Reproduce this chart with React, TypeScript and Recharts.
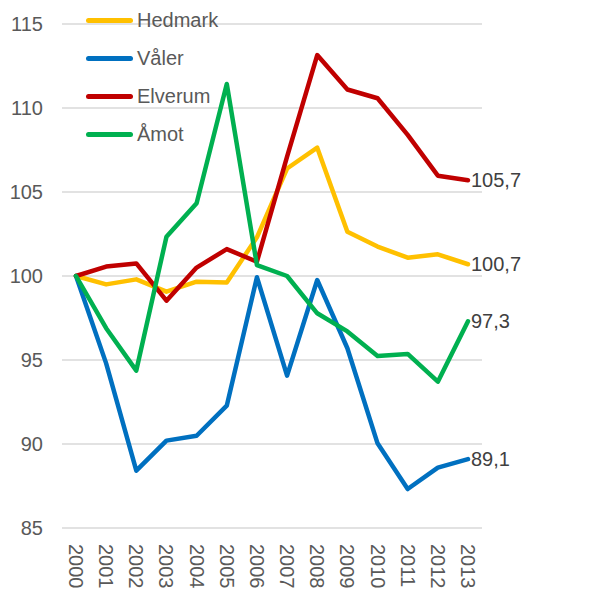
import React from "react";
import { LineChart, Line, XAxis, YAxis, CartesianGrid, LabelList, Legend } from "recharts";

const years = ["2000", "2001", "2002", "2003", "2004", "2005", "2006", "2007", "2008", "2009", "2010", "2011", "2012", "2013"];
const hedmark = [100, 99.5, 99.8, 99.07, 99.66, 99.62, 102.3, 106.4, 107.64, 102.64, 101.75, 101.09, 101.29, 100.7];
const valer = [100, 94.8, 88.41, 90.2, 90.49, 92.28, 99.93, 94.07, 99.76, 95.7, 90.04, 87.32, 88.59, 89.1];
const elverum = [100, 100.56, 100.75, 98.53, 100.5, 101.6, 100.85, 107.1, 113.15, 111.1, 110.58, 108.4, 105.97, 105.7];
const amot = [100, 96.89, 94.37, 102.34, 104.33, 111.43, 100.65, 100.0, 97.78, 96.7, 95.24, 95.36, 93.71, 97.3];
const yTicks = [85, 90, 95, 100, 105, 110, 115];

const seriesDefs = [
  { key: "Hedmark", values: hedmark, color: "#FFC000" },
  { key: "Våler", values: valer, color: "#0070C0" },
  { key: "Elverum", values: elverum, color: "#C00000" },
  { key: "Åmot", values: amot, color: "#00B050" },
];

const data = years.map((y, i) => {
  const row: Record<string, any> = { year: y };
  seriesDefs.forEach((s) => (row[s.key] = s.values[i]));
  return row;
});

const FONT = "'Liberation Sans', Arial, sans-serif";

const XTick = (props: any) => {
  const { x, y, payload } = props;
  return (
    <text
      x={x}
      y={y}
      dy="0.35em"
      transform={`rotate(90, ${x}, ${y})`}
      textAnchor="start"
      fill="#595959"
      fontSize={20}
      fontFamily={FONT}
    >
      {payload.value}
    </text>
  );
};

const fmt = (v: number) => v.toFixed(1).replace(".", ",");

const endLabel = (n: number) => (props: any) => {
  const { x, y, value, index } = props;
  if (index !== n - 1) return null;
  return (
    <text x={x + 3} y={y} dy="0.35em" fill="#404040" fontSize={20} fontFamily={FONT} textAnchor="start">
      {fmt(value)}
    </text>
  );
};

const LegendContent = () => (
  <div style={{ fontFamily: FONT, fontSize: 20, color: "#595959" }}>
    {seriesDefs.map((s) => (
      <div key={s.key} style={{ display: "flex", alignItems: "center", height: 37.8 }}>
        <div style={{ width: 47, height: 5, borderRadius: 3, background: s.color, marginRight: 4 }} />
        <span>{s.key}</span>
      </div>
    ))}
  </div>
);

export default function App() {
  return (
    <div style={{ position: "absolute", left: 0, top: 0, width: 614, height: 594 }}>
      <LineChart width={614} height={594} data={data} margin={{ top: 24, right: 132, bottom: 0, left: 0 }}>
        <CartesianGrid vertical={false} stroke="#D9D9D9" strokeWidth={1.5} />
        <XAxis
          dataKey="year"
          axisLine={false}
          tickLine={false}
          tickSize={0}
          height={66}
          interval={0}
          padding={{ left: 14, right: 14 }}
          tick={<XTick />}
          tickMargin={16}
        />
        <YAxis
          domain={[85, 115]}
          ticks={yTicks}
          axisLine={false}
          tickLine={false}
          tickSize={0}
          tickMargin={19}
          width={62}
          tick={{ fill: "#595959", fontSize: 20, fontFamily: FONT }}
        />
        <Legend
          layout="vertical"
          align="center"
          verticalAlign="middle"
          content={<LegendContent />}
          wrapperStyle={{ left: 86, top: 2, width: 200, height: 152 }}
        />
        {seriesDefs.map((s) => (
          <Line
            key={s.key}
            dataKey={s.key}
            stroke={s.color}
            strokeWidth={4.5}
            dot={false}
            activeDot={false}
            strokeLinecap="round"
            strokeLinejoin="round"
            isAnimationActive={false}
          >
            <LabelList dataKey={s.key} content={endLabel(years.length)} />
          </Line>
        ))}
      </LineChart>
    </div>
  );
}
